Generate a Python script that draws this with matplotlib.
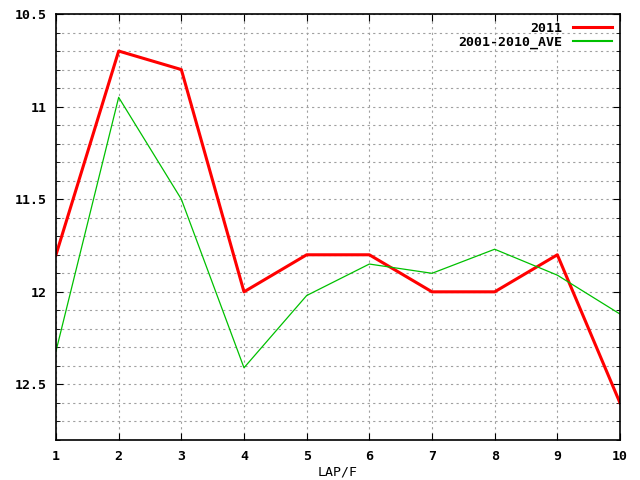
import numpy as np
import matplotlib
matplotlib.use("Agg")
from matplotlib import pyplot as plt
from matplotlib.ticker import MultipleLocator, FuncFormatter

laps = [1, 2, 3, 4, 5, 6, 7, 8, 9, 10]
y2011 = [11.80, 10.70, 10.80, 12.00, 11.80, 11.80, 12.00, 12.00, 11.80, 12.60]
ave = [12.32, 10.95, 11.50, 12.41, 12.02, 11.85, 11.90, 11.77, 11.91, 12.12]

plt.rcParams['font.family'] = 'DejaVu Sans Mono'
plt.rcParams['font.weight'] = 'bold'
plt.rcParams['font.size'] = 9.5

fig = plt.figure(figsize=(6.4, 4.8), dpi=100)
ax = fig.add_axes([56 / 640, 1 - 440 / 480, 564 / 640, 426 / 480])

ax.plot(laps, y2011, color='#ff0000', lw=2.2, label='2011')
ax.plot(laps, ave, color='#00c000', lw=0.9, label='2001-2010_AVE')

ax.set_xlim(1, 10)
ax.set_ylim(12.8, 10.5)
ax.set_xticks(laps)
ax.yaxis.set_major_locator(MultipleLocator(0.5))
ax.yaxis.set_minor_locator(MultipleLocator(0.1))
ax.yaxis.set_major_formatter(FuncFormatter(lambda v, p: f"{v:g}"))
ax.tick_params(which='both', direction='in', top=True, right=True)
ax.tick_params(which='major', length=5, pad=7)
ax.tick_params(which='minor', length=3)
ax.grid(True, which='both', color='#a0a0a0', ls=(0, (2, 3)), lw=0.8)
for s in ax.spines.values():
    s.set_linewidth(1.2)

ax.set_xlabel('LAP/F', labelpad=2)
leg = ax.legend(loc='upper right', frameon=False, markerfirst=False,
                handlelength=3.0, borderaxespad=0.2, labelspacing=0.05,
                handletextpad=0.8)
leg.get_lines()[1].set_linewidth(1.5)

fig.savefig('out.png')
